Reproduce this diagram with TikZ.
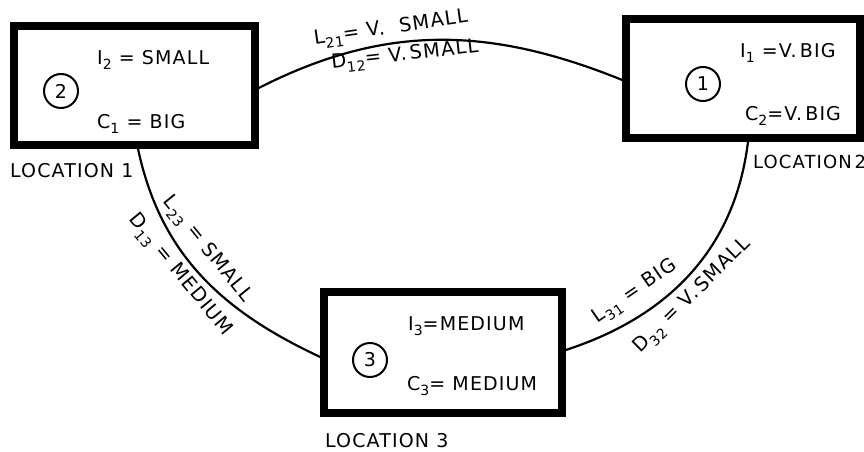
\documentclass[tikz,border=0pt]{standalone}
\usepackage{fontspec}
\setmainfont{DejaVu Sans}[LetterSpace=6]
\newcommand\lowidx[1]{\raisebox{-0.55ex}{\fontsize{14}{14}\selectfont #1}}

\begin{document}
\begin{tikzpicture}[x=1pt,y=-1pt,font=\fontsize{19}{19}\selectfont,
  loc/.style={draw, line width=7.5pt, inner sep=0pt},
  num/.style={draw, circle, line width=2pt, minimum size=34pt, inner sep=0pt},
  txt/.style={anchor=base west, inner sep=0pt},
  link/.style={line width=2.2pt},
  lbl/.style={sloped, inner sep=2pt, font=\fontsize{19.5}{19.5}\selectfont}]
  \useasboundingbox (0,0) rectangle (864,452);

  % the three locations
  \node[loc, minimum width=241, minimum height=119] (loc1) at (134.5,85.5) {}; %
  \node[loc, minimum width=234, minimum height=119] (loc2) at (743,78.5) {}; %
  \node[loc, minimum width=238, minimum height=121] (loc3) at (443,352.5) {}; %

  \node[num] (n2) at (61,91) {2}; %
  \node[txt] (i2) at (97,64) {I\lowidx{2} = SMALL}; %
  \node[txt] (c1) at (97,128) {C\lowidx{1} = BIG}; %

  \node[num] (n1) at (703,84) {1}; %
  \node[txt] (i1) at (740,57) {I\lowidx{1} =V.\,BIG}; %
  \node[txt] (c2) at (745,120) {C\lowidx{2}=V.\,BIG}; %

  \node[num] (n3) at (370,360) {3}; %
  \node[txt] (i3) at (408,330) {I\lowidx{3}=MEDIUM}; %
  \node[txt] (c3) at (407,390) {C\lowidx{3}= MEDIUM}; %

  \node[txt] (name1) at (10,177) {LOCATION 1}; %
  \node[txt, font=\fontsize{18}{18}\selectfont] (name2) at (753,168) {LOCATION\,2}; %
  \node[txt] (name3) at (325,447) {LOCATION 3}; %

  % links
  \draw[link] ([yshift=-2.5pt]loc1.east) to[out=27,in=158]
    node[lbl, pos=.37, above=1pt] (l21) {L\lowidx{21}= V.\ \ SMALL}
    node[lbl, pos=.4, below=1pt] (d12) {D\lowidx{12}= V.\,SMALL}
    ([yshift=-1.5pt]loc2.west);
  \draw[link] ([xshift=3.5pt]loc1.south) to[out=-78,in=155]
    node[lbl, pos=.44, above=8pt] (l23) {L\lowidx{23} = SMALL}
    node[lbl, pos=.45, below=3pt] (d13) {D\lowidx{13} = MEDIUM}
    ([yshift=-4.5pt]loc3.west);
  \draw[link] ([yshift=2.5pt]loc3.east) to[out=18,in=-97]
    node[lbl, pos=.3, above=9pt] (l31) {L\lowidx{31} = BIG}
    node[lbl, pos=.45, below=4pt] (d32) {D\lowidx{32} = V.\,SMALL}
    ([xshift=5pt]loc2.south);

\end{tikzpicture}
\end{document}
